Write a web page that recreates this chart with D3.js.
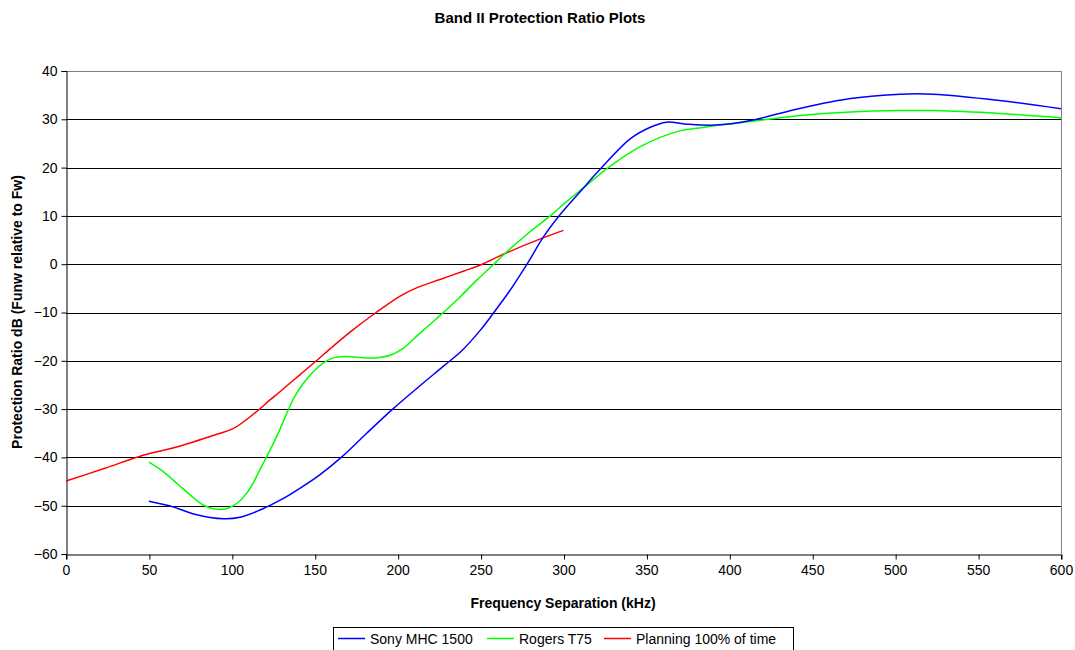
<!DOCTYPE html>
<html><head><meta charset="utf-8">
<script src="https://cdn.jsdelivr.net/npm/d3@7"></script>
<style>body{margin:0;background:#fff}svg{display:block}text{font-family:"Liberation Sans",Arial,sans-serif}</style>
</head><body>
<svg id="c" width="1075" height="650"></svg>
<script>
const xTicks = [0,50,100,150,200,250,300,350,400,450,500,550,600];
const yTicks = [-60,-50,-40,-30,-20,-10,0,10,20,30,40];
const sonyFreq = [50,65,77,95,105,117,130,141,153,166,181,197,214,228,239,250,258,268,278,288,298,310,323,340,352,362,374,392,412,443,473,503,523,563,600];
const sonyVal  = [-49.1,-50.3,-51.7,-52.7,-52.4,-50.9,-48.7,-46.4,-43.6,-40,-35.1,-30,-25,-21,-17.8,-13.6,-10,-5.3,0,5.7,10.3,15,20,25.9,28.3,29.4,29.0,28.8,29.7,32.3,34.3,35.2,35.2,33.9,32.2];
const rogersFreq = [50,58,67,75,83,93,101,109,119,127,137,143,149,155,161,169,181,189,196,203,211.5,219,226,237,247.7,258,264,278,292,302,312.4,327,346,370,382,394,402,443,473,503,523,563,600];
const rogersVal  = [-41,-42.8,-45.4,-47.8,-49.9,-50.8,-50,-47.4,-41.2,-35.7,-28,-24.7,-22.3,-20.5,-19.4,-19.1,-19.4,-19.3,-18.8,-17.5,-14.9,-12.6,-10.5,-7,-3.3,0,2.0,6.2,10,13,15.9,20,24.3,27.6,28.2,28.8,29.1,30.8,31.5,31.8,31.8,31.2,30.3];
const planFreq = [0,23,47,65,91,101,115,123,129,141,151,161,173,187,201,212,226,240,251,264,288,300];
const planVal  = [-44.9,-42.3,-39.5,-38,-35.2,-34,-30.5,-28.1,-26.4,-22.9,-20,-17,-13.6,-10,-6.7,-4.8,-3.1,-1.4,0,2.1,5.5,7];
const seriesNames = ["Sony MHC 1500","Rogers T75","Planning 100% of time"];
const seriesColors = ["#0000ff","#00ff00","#ff0000"];

const svg = d3.select("#c");
const L=66,R=1061,T=71,B=554;
const x = d3.scaleLinear().domain([0,600]).range([L,R]);
const y = d3.scaleLinear().domain([-60,40]).range([B,T]);

svg.append("g").selectAll("line").data(yTicks.filter(v=>v>-60&&v<40)).join("line")
  .attr("x1",L).attr("x2",R).attr("y1",d=>Math.round(y(d))+0.5).attr("y2",d=>Math.round(y(d))+0.5)
  .attr("stroke","#000").attr("stroke-width",1);
svg.append("path").attr("d",`M${L},${T+0.5}H${R+0.5}V${B}`).attr("fill","none").attr("stroke","#808080").attr("stroke-width",1);

const xAxis = svg.append("g").attr("transform",`translate(0,${B+0.5})`)
  .call(d3.axisBottom(x).tickValues(xTicks).tickSize(5).tickPadding(6).tickFormat(d3.format("d")));
const yAxis = svg.append("g").attr("transform",`translate(${L+0.5},0)`)
  .call(d3.axisLeft(y).tickValues(yTicks).tickSize(5).tickPadding(4).tickFormat(d3.format("d")));
[xAxis,yAxis].forEach(a=>{a.select(".domain").attr("stroke","#000");a.selectAll(".tick line").attr("stroke","#000");
  a.selectAll("text").attr("font-size",14).attr("fill","#000").attr("font-family","Liberation Sans, Arial, sans-serif");});
xAxis.selectAll(".tick line").attr("transform","translate(0.5,0)");

const line = d3.line().x(d=>x(d[0])).y(d=>y(d[1])).curve(d3.curveCatmullRom.alpha(0.5));
const data = [d3.zip(sonyFreq,sonyVal), d3.zip(rogersFreq,rogersVal), d3.zip(planFreq,planVal)];
[2,1,0].forEach(i=>{
  svg.append("path").datum(data[i]).attr("d",line).attr("fill","none").attr("stroke",seriesColors[i]).attr("stroke-width",1.5);
});

svg.append("text").attr("x",540).attr("y",23).attr("text-anchor","middle").attr("font-size",15).attr("font-weight","bold").text("Band II Protection Ratio Plots");
svg.append("text").attr("x",563).attr("y",608).attr("text-anchor","middle").attr("font-size",14).attr("font-weight","bold").text("Frequency Separation (kHz)");
svg.append("text").attr("transform","translate(22,312) rotate(-90)").attr("text-anchor","middle").attr("font-size",14).attr("font-weight","bold").text("Protection Ratio dB (Funw relative to Fw)");

const lg = svg.append("g");
lg.append("rect").attr("x",333.5).attr("y",627.5).attr("width",460).attr("height",30).attr("fill","#fff").attr("stroke","#000");
const lx = [338,487,604];
seriesNames.forEach((n,i)=>{
  lg.append("line").attr("x1",lx[i]).attr("x2",lx[i]+27).attr("y1",638.5).attr("y2",638.5).attr("stroke",seriesColors[i]).attr("stroke-width",1.5);
  lg.append("text").attr("x",lx[i]+32).attr("y",644).attr("font-size",14).text(n);
});
</script>
</body></html>
